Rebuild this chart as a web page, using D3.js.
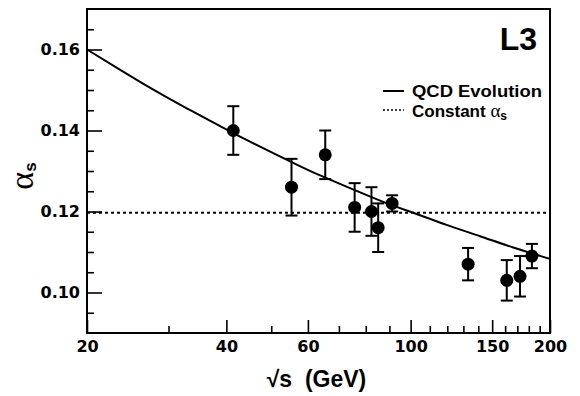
<!DOCTYPE html>
<html>
<head>
<meta charset="utf-8">
<script src="https://cdn.jsdelivr.net/npm/d3@7/dist/d3.min.js"></script>
<style>
  body { margin: 0; background: #fff; }
  svg { display: block; }
  .tick text { font-family: 'DejaVu Sans', sans-serif; font-weight: bold; font-size: 16px; fill: #000; }
</style>
</head>
<body>
<div id="chart"></div>
<script>
const energies = [41.4, 55.3, 65.4, 75.7, 82.3, 85.1, 91.2, 133.1, 161.3, 172.3, 182.8];
const alphaS = [0.140, 0.126, 0.134, 0.121, 0.120, 0.116, 0.122, 0.107, 0.103, 0.104, 0.109];
const alphaErr = [0.006, 0.007, 0.006, 0.006, 0.006, 0.006, 0.002, 0.004, 0.005, 0.005, 0.003];

// QCD evolution curve
const qcdEnergies = [20, 23.5, 27.7, 32.7, 38.6, 42.6, 54.9, 64.7, 85.9, 101.3, 119.6, 141.2, 166.6, 200];
const qcdAlpha = [0.160, 0.1551, 0.1502, 0.1456, 0.1412, 0.1386, 0.1324, 0.1286, 0.1227, 0.1197, 0.1167, 0.1139, 0.1111, 0.1083];

const constAlpha = 0.1197;

const xMajor = [20, 40, 60, 100, 150, 200];
const xMinor = [30, 50, 70, 80, 90, 110, 120, 130, 140, 160, 170, 180, 190];
const yMajor = [0.10, 0.12, 0.14, 0.16];
const yMinor = [0.095, 0.105, 0.11, 0.115, 0.125, 0.13, 0.135, 0.145, 0.15, 0.155, 0.165];

const W = 580, H = 396;
const margin = { left: 87, top: 9, right: 30, bottom: 63 };
const width = W - margin.left - margin.right;
const height = H - margin.top - margin.bottom;

const svg = d3.select('#chart').append('svg')
  .attr('width', W)
  .attr('height', H);

const g = svg.append('g')
  .attr('transform', `translate(${margin.left}, ${margin.top})`);

const x = d3.scaleLog().domain([20, 200]).range([0, width]);
const y = d3.scaleLinear().domain([0.09, 0.17]).range([height, 0]);

// AXES (ticks point inward)
const xAxisMajor = g.append('g')
  .attr('transform', `translate(0, ${height})`)
  .call(d3.axisBottom(x).tickValues(xMajor).tickFormat(d3.format('d'))
    .tickSize(-13).tickPadding(8));
const xAxisMinor = g.append('g')
  .attr('transform', `translate(0, ${height})`)
  .call(d3.axisBottom(x).tickValues(xMinor).tickFormat('').tickSize(-7));
const yAxisMajor = g.append('g')
  .call(d3.axisLeft(y).tickValues(yMajor).tickFormat(d3.format('.2f'))
    .tickSize(-15).tickPadding(7));
const yAxisMinor = g.append('g')
  .call(d3.axisLeft(y).tickValues(yMinor).tickFormat('').tickSize(-7));

[xAxisMajor, xAxisMinor, yAxisMajor, yAxisMinor].forEach(a => {
  a.select('.domain').remove();
  a.selectAll('.tick line').attr('stroke', '#000').attr('stroke-width', 1.6);
});

// constant alpha_s
g.append('line')
  .attr('x1', 0).attr('x2', width)
  .attr('y1', y(constAlpha)).attr('y2', y(constAlpha))
  .attr('stroke', '#000')
  .attr('stroke-width', 2)
  .attr('stroke-dasharray', '3,3');

// QCD evolution
const qcd = qcdEnergies.map((e, i) => [e, qcdAlpha[i]]);
g.append('path')
  .datum(qcd)
  .attr('fill', 'none')
  .attr('stroke', '#000')
  .attr('stroke-width', 2)
  .attr('d', d3.line().x(d => x(d[0])).y(d => y(d[1])).curve(d3.curveNatural));

// error bars + points
const pts = energies.map((e, i) => ({ e, a: alphaS[i], err: alphaErr[i] }));
const bars = g.append('g').selectAll('g').data(pts).enter().append('g')
  .attr('stroke', '#000').attr('stroke-width', 2);
bars.append('line')
  .attr('x1', d => x(d.e)).attr('x2', d => x(d.e))
  .attr('y1', d => y(d.a - d.err)).attr('y2', d => y(d.a + d.err));
bars.append('line')
  .attr('x1', d => x(d.e) - 6).attr('x2', d => x(d.e) + 6)
  .attr('y1', d => y(d.a - d.err)).attr('y2', d => y(d.a - d.err));
bars.append('line')
  .attr('x1', d => x(d.e) - 6).attr('x2', d => x(d.e) + 6)
  .attr('y1', d => y(d.a + d.err)).attr('y2', d => y(d.a + d.err));
g.append('g').selectAll('circle').data(pts).enter().append('circle')
  .attr('cx', d => x(d.e))
  .attr('cy', d => y(d.a))
  .attr('r', 6.5)
  .attr('fill', '#000');

// FRAME
g.append('rect')
  .attr('width', width).attr('height', height)
  .attr('fill', 'none')
  .attr('stroke', '#000')
  .attr('stroke-width', 2);

// L3 label
g.append('text')
  .attr('x', 450).attr('y', 41)
  .attr('text-anchor', 'end')
  .style('font-family', "'Liberation Sans', Arial, sans-serif")
  .style('font-weight', 'bold')
  .style('font-size', '32px')
  .text('L3');

// LEGEND
const leg = g.append('g')
  .style('font-family', "'Liberation Sans', Arial, sans-serif")
  .style('font-weight', 'bold')
  .style('font-size', '17px');
leg.append('line')
  .attr('x1', 296).attr('x2', 317).attr('y1', 82).attr('y2', 82)
  .attr('stroke', '#000').attr('stroke-width', 2);
leg.append('text').attr('x', 325).attr('y', 88)
  .attr('textLength', 130).attr('lengthAdjust', 'spacingAndGlyphs')
  .text('QCD Evolution');
leg.append('line')
  .attr('x1', 296).attr('x2', 317).attr('y1', 101).attr('y2', 101)
  .attr('stroke', '#000').attr('stroke-width', 1.5)
  .attr('stroke-dasharray', '2,2');
const constText = leg.append('text').attr('x', 325).attr('y', 108);
constText.append('tspan').text('Constant ');
constText.append('tspan')
  .style('font-family', "'Liberation Serif', serif")
  .style('font-weight', 'normal')
  .style('font-size', '19px')
  .text('α');
constText.append('tspan')
  .attr('dy', 3)
  .style('font-size', '12px')
  .text('s');

// AXIS TITLES
svg.append('text')
  .attr('x', margin.left + width / 2 - 2)
  .attr('y', 387)
  .attr('text-anchor', 'middle')
  .style('font-family', "'Liberation Sans', Arial, sans-serif")
  .style('font-weight', 'bold')
  .style('font-size', '23px')
  .style('white-space', 'pre')
  .text('√s  (GeV)');

const yTitle = svg.append('text')
  .attr('transform', 'translate(33, 176) rotate(-90)')
  .attr('text-anchor', 'middle');
yTitle.append('tspan')
  .style('font-family', "'Liberation Serif', serif")
  .style('font-size', '34px')
  .text('α');
yTitle.append('tspan')
  .attr('dy', 3)
  .style('font-family', "'Liberation Sans', Arial, sans-serif")
  .style('font-weight', 'bold')
  .style('font-size', '17px')
  .text('s');
</script>
</body>
</html>
